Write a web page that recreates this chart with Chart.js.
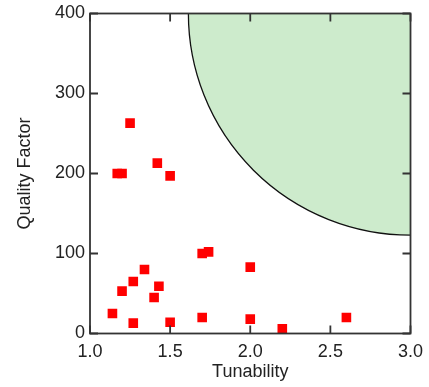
<!DOCTYPE html>
<html>
<head>
<meta charset="utf-8">
<script src="https://cdn.jsdelivr.net/npm/chart.js@4/dist/chart.umd.min.js"></script>
<style>
  html, body { margin: 0; padding: 0; background: #fff; }
  #wrap { width: 429px; height: 387px; }
</style>
</head>
<body>
<div id="wrap"><canvas id="chart"></canvas></div>
<script>
// measured devices: tunability vs quality factor
const tunability = [1.25, 1.17, 1.20, 1.42, 1.50, 1.14, 1.20, 1.27, 1.34, 1.40, 1.43, 1.27, 1.50, 1.70, 1.74, 1.70, 2.00, 2.00, 2.20, 2.60];
const qualityFactor = [263, 200, 200, 213, 197, 25, 53, 65, 80, 45, 59, 13, 14, 100, 102, 20, 83, 18, 6, 20];

const xTicks = [1.0, 1.5, 2.0, 2.5, 3.0];
const yTicks = [0, 100, 200, 300, 400];

// target region: quarter ellipse around the top-right corner
const regionCenter = [3.0, 400];
const regionRadius = [1.386, 277];

const ink = "#222";
const fontFamily = "'Liberation Sans', Arial, sans-serif";

// green region, clipped to the plot box
const regionPlugin = {
  id: "region",
  beforeDatasetsDraw(chart) {
    const { ctx, chartArea, scales } = chart;
    const cx = scales.x.getPixelForValue(regionCenter[0]);
    const cy = scales.y.getPixelForValue(regionCenter[1]);
    const rx = cx - scales.x.getPixelForValue(regionCenter[0] - regionRadius[0]);
    const ry = scales.y.getPixelForValue(regionCenter[1] - regionRadius[1]) - cy;
    ctx.save();
    ctx.beginPath();
    ctx.rect(chartArea.left, chartArea.top, chartArea.width, chartArea.height);
    ctx.clip();
    ctx.beginPath();
    ctx.ellipse(cx, cy, rx, ry, 0, 0, Math.PI * 2);
    ctx.fillStyle = "#cdebcc";
    ctx.fill();
    ctx.lineWidth = 1.3;
    ctx.strokeStyle = "#111";
    ctx.stroke();
    ctx.restore();
  },
};

// box frame with inward ticks on all four sides
const framePlugin = {
  id: "frame",
  afterDraw(chart) {
    const { ctx, chartArea: a, scales } = chart;
    const len = 8;
    ctx.save();
    ctx.strokeStyle = "#333";
    ctx.lineWidth = 1.8;
    ctx.strokeRect(a.left, a.top, a.width, a.height);
    ctx.beginPath();
    xTicks.forEach((v) => {
      const px = scales.x.getPixelForValue(v);
      ctx.moveTo(px, a.bottom); ctx.lineTo(px, a.bottom - len);
      ctx.moveTo(px, a.top); ctx.lineTo(px, a.top + len);
    });
    yTicks.forEach((v) => {
      const py = scales.y.getPixelForValue(v);
      ctx.moveTo(a.left, py); ctx.lineTo(a.left + len, py);
      ctx.moveTo(a.right, py); ctx.lineTo(a.right - len, py);
    });
    ctx.stroke();
    ctx.restore();
  },
};

const points = tunability.map((t, i) => ({ x: t, y: qualityFactor[i] }));

new Chart(document.getElementById("chart"), {
  type: "scatter",
  data: {
    datasets: [{
      data: points,
      pointStyle: "rect",
      pointRadius: 6.8,
      pointHoverRadius: 6.8,
      backgroundColor: "#ff0000",
      borderWidth: 0,
    }],
  },
  options: {
    responsive: true,
    maintainAspectRatio: false,
    animation: false,
    events: [],
    layout: { padding: { top: 13.5, right: 18.5, left: 0, bottom: 0 } },
    plugins: { legend: { display: false }, tooltip: { enabled: false } },
    scales: {
      x: {
        type: "linear",
        min: 1, max: 3,
        afterBuildTicks: (s) => { s.ticks = xTicks.map((v) => ({ value: v })); },
        afterFit: (s) => {
          s.height = 53.5;
          s.paddingLeft = 0;
          s.paddingRight = 0;
        },
        ticks: {
          padding: 8,
          color: ink,
          font: { family: fontFamily, size: 18 },
          callback: (v) => Number(v).toFixed(1),
        },
        grid: { display: false, drawTicks: false },
        border: { display: false },
        title: {
          display: true,
          text: "Tunability",
          color: ink,
          font: { family: fontFamily, size: 18 },
          padding: { top: 2, bottom: 4 },
        },
      },
      y: {
        type: "linear",
        min: 0, max: 400,
        afterBuildTicks: (s) => { s.ticks = yTicks.map((v) => ({ value: v })); },
        afterFit: (s) => {
          s.width = 90;
          s.paddingTop = 0;
          s.paddingBottom = 0;
        },
        ticks: {
          padding: 5,
          color: ink,
          font: { family: fontFamily, size: 18 },
        },
        grid: { display: false, drawTicks: false },
        border: { display: false },
        title: {
          display: true,
          text: "Quality Factor",
          color: ink,
          font: { family: fontFamily, size: 18 },
          padding: { top: 14, bottom: 4 },
        },
      },
    },
  },
  plugins: [regionPlugin, framePlugin],
});
</script>
</body>
</html>
